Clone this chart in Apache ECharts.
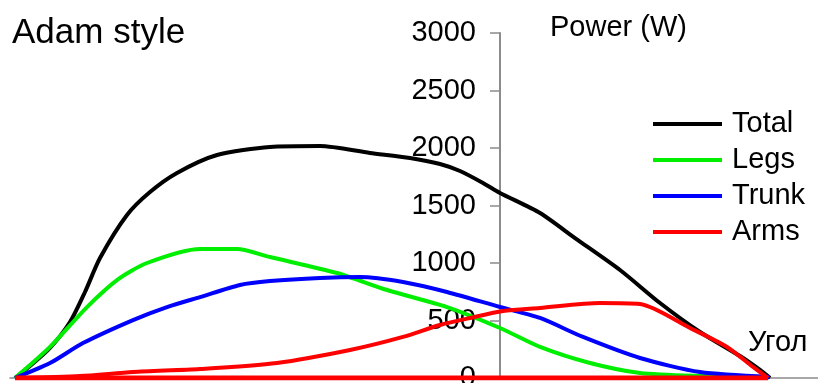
<!DOCTYPE html>
<html>
<head>
<meta charset="utf-8">
<script src="https://cdn.jsdelivr.net/npm/echarts@6/dist/echarts.min.js"></script>
<style>html,body{margin:0;padding:0;background:#fff}#c{width:818px;height:383px}</style>
</head>
<body>
<div id="c"></div>
<script>
// Angle (x, relative units; 0 = where the power axis crosses) and power (W)
var totalX = [-485,-470,-450,-430,-415,-400,-373,-350,-323,-283,-230,-180,-130,-90,-60,-40,-17,0,40,75,120,160,200,240,260,270];
var totalY = [0,104,261,487,748,1043,1417,1617,1783,1939,2009,2017,1957,1913,1861,1800,1696,1609,1435,1217,939,652,400,191,70,0];
var legsX = [-485,-470,-450,-413,-383,-353,-300,-263,-230,-163,-113,-53,0,40,90,140,200,260];
var legsY = [0,113,270,617,852,1000,1122,1122,1052,913,765,617,435,270,130,43,17,9];
var trunkX = [-485,-450,-417,-367,-333,-300,-260,-230,-180,-140,-97,-53,0,40,83,140,200,270];
var trunkY = [0,130,304,504,617,704,809,843,870,878,835,748,617,522,357,174,52,9];
var armsX = [-485,-420,-367,-300,-223,-150,-97,-60,-30,3,40,100,140,190,227,253,268];
var armsY = [0,17,52,78,130,243,357,461,522,583,609,652,643,435,270,96,0];
// recovery phase: zero power back to the start
var recoveryX = [268,-485];
var recoveryY = [0,0];

var seriesNames = ['Total','Legs','Trunk','Arms'];
var yTicks = [0,500,1000,1500,2000,2500,3000];

function zip(xs, ys){ return xs.map(function(x,i){ return [x, ys[i]]; }); }

var font = '"Liberation Sans", Arial, sans-serif';
var chart = echarts.init(document.getElementById('c'), null, {renderer:'canvas'});
var lw = 4;
var xMin = -490, xMax = 318, gridLeft = 10;
chart.setOption({
  animation: false,
  backgroundColor: '#fff',
  title: [
    {text:'Adam style', left:12, top:16, padding:0, textStyle:{fontFamily:font, fontSize:35, fontWeight:'normal', color:'#000'}},
    {text:'Power (W)', left:550, top:13, padding:0, textStyle:{fontFamily:font, fontSize:29, fontWeight:'normal', color:'#000'}},
    {text:'Угол', left:748, top:328, padding:0, textStyle:{fontFamily:font, fontSize:29, fontWeight:'normal', color:'#000'}}
  ],
  legend: {
    orient:'vertical', left:653, top:109, padding:0,
    itemWidth:69, itemHeight:4, itemGap:6, icon:'rect',
    data: seriesNames,
    textStyle:{fontFamily:font, fontSize:29, color:'#000', lineHeight:30, padding:[0,0,0,5]}
  },
  grid: {left:gridLeft, right:0, top:33, bottom:5, containLabel:false, outerBoundsMode:'none'},
  xAxis: {
    type:'value', min:xMin, max:xMax,
    axisLine:{show:true, onZero:false, lineStyle:{color:'#8c8c8c', width:1.5}},
    axisTick:{show:false}, axisLabel:{show:false}, splitLine:{show:false}
  },
  yAxis: {
    type:'value', min:0, max:3000, interval:500, position:'left',
    offset: -(0 - xMin) * (818 - gridLeft) / (xMax - xMin),
    axisLine:{show:true, onZero:false, lineStyle:{color:'#8c8c8c', width:2}},
    axisTick:{show:true, inside:false, length:10, lineStyle:{color:'#8c8c8c', width:1.5}},
    axisLabel:{margin:24, fontFamily:font, fontSize:29, color:'#000',
      formatter:function(v){ return yTicks.indexOf(v) >= 0 ? String(v) : ''; }},
    splitLine:{show:false}
  },
  series: [
    {name:'Total', type:'line', data:zip(totalX,totalY), smooth:0.25, symbol:'none', color:'#000000', lineStyle:{width:lw}, z:2},
    {name:'Legs', type:'line', data:zip(legsX,legsY), smooth:0.25, symbol:'none', color:'#00ee00', lineStyle:{width:lw}, z:2},
    {name:'Trunk', type:'line', data:zip(trunkX,trunkY), smooth:0.25, symbol:'none', color:'#0000ff', lineStyle:{width:lw}, z:2},
    {name:'Arms', type:'line', data:zip(armsX,armsY), smooth:0.25, symbol:'none', color:'#ff0000', lineStyle:{width:lw}, z:3},
    {name:'Arms', type:'line', data:zip(recoveryX,recoveryY), symbol:'none', color:'#ff0000', lineStyle:{width:5}, z:3}
  ]
});
</script>
</body>
</html>
